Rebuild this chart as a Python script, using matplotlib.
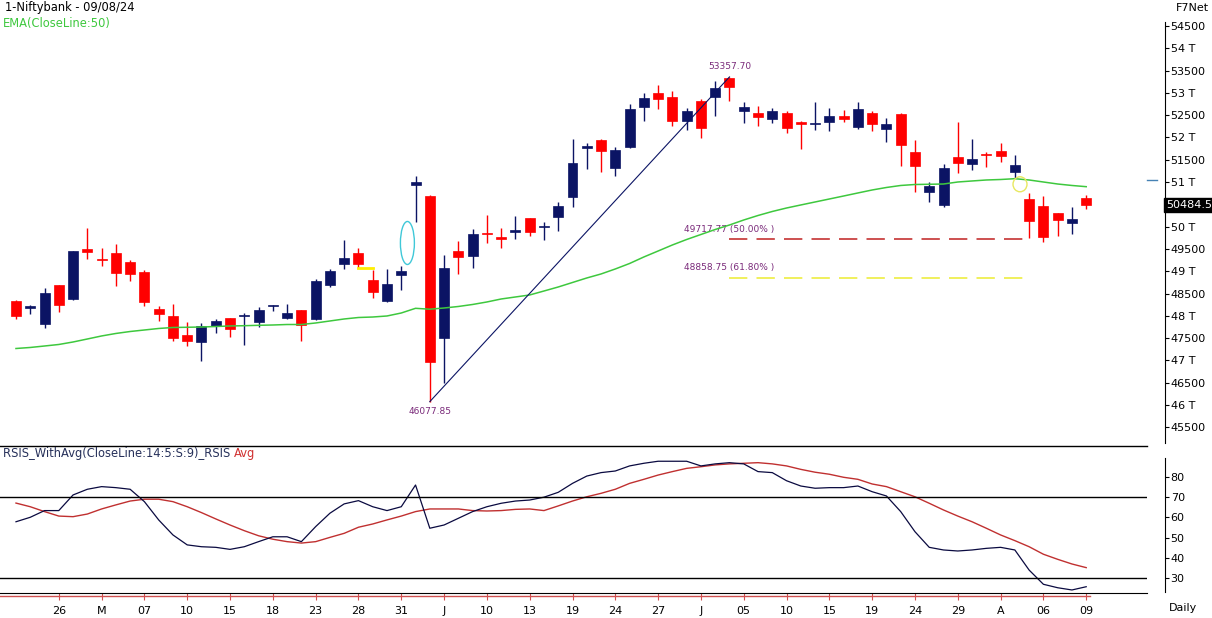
import matplotlib.pyplot as plt
from matplotlib.patches import Ellipse

W, H = 1212, 618

# Daily OHLC, 23 Apr 2024 .. 09 Aug 2024
opens = [48334, 48171, 47812, 48686, 48379, 49500, 49285, 49410, 49209, 48984,
         48155, 47991, 47572, 47422, 47780, 47946, 47990, 47870, 48230, 47960,
         48132, 47937, 48693, 49157, 49417, 48805, 48341, 48924, 50928, 50688,
         47511, 49455, 49343, 49851, 49762, 49888, 50188, 50000, 50224, 50659,
         51758, 51944, 51323, 51780, 52690, 53004, 52908, 52377, 52811, 52915,
         53330, 52601, 52556, 52421, 52556, 52354, 52300, 52354, 52482, 52242,
         52542, 52184, 52527, 51675, 50785, 50487, 51556, 51406, 51620, 51697,
         51220, 50614, 50464, 50307, 50090, 50643]
highs = [48357, 48245, 48619, 48700, 49462, 49964, 49516, 49612, 49247, 49029,
         48222, 48260, 47857, 47834, 47931, 47946, 48058, 48193, 48245, 48267,
         48140, 48821, 49052, 49702, 49516, 49029, 49045, 49119, 51133, 50700,
         49365, 49679, 49948, 50262, 49964, 50240, 50200, 50112, 50560, 51966,
         51870, 51960, 51780, 52751, 53004, 53177, 53042, 52655, 52856, 53267,
         53357.70, 52802, 52706, 52655, 52600, 52376, 52789, 52655, 52616, 52789,
         52594, 52430, 52542, 51944, 50995, 51406, 52341, 51960, 51681, 51870,
         51601, 50749, 50688, 50307, 50435, 50711]
lows = [47931, 48036, 47736, 48094, 48357, 49269, 49126, 48677, 48789, 48229,
        47879, 47444, 47332, 46996, 47623, 47534, 47354, 47745, 48117, 47931,
        47444, 47901, 48655, 49052, 49067, 48408, 48318, 48581, 50112, 46077.85,
        46489, 48933, 49081, 49641, 49529, 49717, 49798, 49702, 49910, 50448,
        51294, 51233, 51143, 51758, 52370, 52639, 52258, 52168, 51995, 52489,
        52825, 52318, 52264, 52318, 52094, 51742, 52168, 52152, 52341, 52184,
        52152, 51892, 51354, 50785, 50560, 50448, 51197, 51271, 51345, 51457,
        51085, 49740, 49664, 49798, 49836, 50397]
closes = [48005, 48222, 48507, 48238, 49455, 49426, 49260, 48955, 48933, 48318,
          48049, 47505, 47444, 47767, 47879, 47713, 48005, 48132, 48240, 48065,
          47796, 48783, 49007, 49298, 49170, 48543, 48715, 49007, 50995, 46960,
          49081, 49327, 49836, 49829, 49724, 49926, 49888, 50016, 50464, 51421,
          51809, 51704, 51720, 52632, 52879, 52856, 52377, 52594, 52206, 53116,
          53139, 52690, 52466, 52594, 52220, 52310, 52318, 52482, 52415, 52632,
          52296, 52296, 51825, 51354, 50906, 51309, 51435, 51511, 51600, 51592,
          51383, 50135, 49776, 50150, 50173, 50484.5]
ema50 = [47269, 47292, 47325, 47359, 47415, 47482, 47550, 47606, 47650, 47684,
         47718, 47740, 47745, 47751, 47762, 47774, 47780, 47789, 47796, 47807,
         47807, 47841, 47886, 47931, 47964, 47975, 47998, 48065, 48170, 48150,
         48177, 48211, 48256, 48312, 48379, 48424, 48469, 48558, 48648, 48749,
         48850, 48940, 49052, 49175, 49321, 49455, 49590, 49713, 49825, 49937,
         50038, 50150, 50251, 50341, 50419, 50487, 50554, 50621, 50688, 50756,
         50823, 50879, 50924, 50946, 50951, 50957, 51002, 51025, 51047, 51058,
         51076, 51047, 51002, 50957, 50924, 50897]
rsi = [57.8, 60.0, 63.3, 63.3, 71.0, 73.8, 75.1, 74.6, 73.8, 67.7,
       58.7, 51.3, 46.4, 45.5, 45.2, 44.2, 45.5, 48.0, 50.4, 50.4,
       48.0, 55.4, 62.0, 66.6, 68.2, 65.2, 63.3, 65.2, 75.9, 54.6,
       56.2, 59.5, 62.8, 65.2, 66.9, 68.0, 68.5, 69.9, 72.3, 76.7,
       80.3, 82.0, 82.8, 85.3, 86.6, 87.6, 87.6, 87.6, 85.3, 86.3,
       86.9, 86.3, 82.5, 82.0, 78.0, 75.4, 74.3, 74.6, 74.6, 75.4,
       72.6, 70.5, 62.8, 52.9, 45.2, 43.9, 43.4, 43.9, 44.7, 45.2,
       43.9, 34.0, 27.0, 25.3, 24.2, 25.8]
rsi_avg = [67.0, 65.2, 62.8, 60.6, 60.3, 61.6, 64.1, 66.1, 68.0, 68.9,
           68.9, 67.7, 65.2, 62.3, 59.2, 56.2, 53.4, 50.9, 49.2, 48.0,
           47.3, 48.0, 50.1, 52.1, 55.1, 56.7, 58.7, 60.6, 62.8, 64.1,
           64.1, 64.1, 63.3, 63.1, 63.3, 63.9, 64.1, 63.3, 65.6, 68.0,
           70.1, 71.8, 73.8, 76.7, 78.7, 80.8, 82.5, 84.1, 84.9, 85.8,
           86.3, 86.6, 86.9, 86.3, 85.3, 83.6, 82.2, 81.2, 79.7, 78.7,
           76.4, 75.1, 72.6, 70.1, 66.9, 63.6, 60.6, 57.8, 54.6, 51.3,
           48.5, 45.5, 41.8, 39.3, 37.0, 35.2]
date_ticks = [3, 6, 9, 12, 15, 18, 21, 24, 27, 30, 33, 36, 39, 42, 45, 48,
              51, 54, 57, 60, 63, 66, 69, 72, 75]
date_labels = ["26", "M", "07", "10", "15", "18", "23", "28", "31", "J", "10",
               "13", "19", "24", "27", "J", "05", "10", "15", "19", "24", "29",
               "A", "06", "09"]
price_ticks = list(range(45500, 54501, 500))
rsi_ticks = [30, 40, 50, 60, 70, 80]
swing_low, swing_high = 46077.85, 53357.70
fib_50, fib_618 = 49717.77, 48858.75
last_close = 50484.5

RED = "#ff0000"
NAVY = "#0b1464"
GREEN = "#3ec83e"
PURPLE = "#7a2a7a"
plt.rcParams["font.family"] = ["DejaVu Sans"]

fig = plt.figure(figsize=(W / 100, H / 100), dpi=100)
xlim = (-1.12, 79.26)

# ---- price panel ----
ax = fig.add_axes([0, 1 - 446 / H, 1147 / W, 426 / H])
ax.set_xlim(*xlim)
ax.set_ylim(45083, 54634)

n = len(closes)
for i in range(n):
    o, h, l, c = opens[i], highs[i], lows[i], closes[i]
    col = NAVY if c >= o else RED
    ax.vlines(i, l, h, color=col, lw=1, zorder=2)
    ax.bar(i, max(abs(c - o), 25), bottom=min(o, c), width=0.7, color=col,
           edgecolor=col, lw=0.5, zorder=3)

ax.plot(range(n), ema50, color=GREEN, lw=1.1, zorder=4)

# swing line and labels
ax.plot([29, 50], [swing_low, swing_high], color=NAVY, lw=0.8, zorder=5)
ax.text(29, swing_low - 120, f"{swing_low:.2f}", color=PURPLE, fontsize=6.5,
        ha="center", va="top")
ax.text(50, swing_high + 130, f"{swing_high:.2f}", color=PURPLE, fontsize=6.5,
        ha="center", va="bottom")

# fibonacci retracement levels
ax.plot([50, 71], [fib_50, fib_50], color="#c02020", lw=1.1,
        dashes=(12, 6), zorder=4)
ax.plot([50, 71], [fib_618, fib_618], color="#ecec30", lw=1.1,
        dashes=(12, 6), zorder=4)
ax.text(50, fib_50 + 120, f"{fib_50:.2f} (50.00% )", color=PURPLE,
        fontsize=6.5, ha="center", va="bottom")
ax.text(50, fib_618 + 120, f"{fib_618:.2f} (61.80% )", color=PURPLE,
        fontsize=6.5, ha="center", va="bottom")

# drawing marks
ax.add_patch(Ellipse((27.43, 49635), 0.98, 964, fill=False,
                     edgecolor="#40c8d8", lw=1, zorder=5))
ax.add_patch(Ellipse((70.36, 50951), 0.98, 336, fill=False,
                     edgecolor="#e8e860", lw=1, zorder=5))
ax.plot([24.0, 25.0], [49063, 49063], color="#ffee00", lw=2, zorder=5)
ax.plot([79.26, 79.96], [51043, 51043], color="#4682b4", lw=1,
        clip_on=False)

for s in ["top", "left"]:
    ax.spines[s].set_visible(False)
ax.spines["bottom"].set_linewidth(1)
ax.spines["right"].set_position(("outward", 13))
ax.spines["right"].set_bounds(45143, 54589)
ax.set_xticks([])
ax.yaxis.tick_right()
ax.set_yticks(price_ticks)
# the 50500 label sits under the last-close box, so it stays blank
ax.set_yticklabels(["" if p == 50500 else
                    (f"{p // 1000} T" if p % 1000 == 0 else str(p))
                    for p in price_ticks])
ax.tick_params(axis="y", labelsize=8, length=3, pad=1, colors="black")
ax.text(1 + 19 / 1147, last_close, f"{last_close}",
        transform=ax.get_yaxis_transform(), ha="left", va="center",
        fontsize=8, color="white",
        bbox=dict(boxstyle="square,pad=0.2", fc="black", ec="black"),
        clip_on=False, zorder=10)

# ---- RSI panel ----
rx = fig.add_axes([0, 1 - 593.3 / H, 1147 / W, 135.3 / H])
rx.set_xlim(*xlim)
rx.set_ylim(22.56, 89.2)
rx.plot(range(n), rsi_avg, color="#c03030", lw=1)
rx.plot(range(n), rsi, color="#0a0a40", lw=0.9)
rx.axhline(70, color="black", lw=1)
rx.axhline(30, color="black", lw=1)
rx.plot([xlim[0], 75.3], [21.23, 21.23], color="#d05050", lw=1,
        clip_on=False)
for s in ["top", "left"]:
    rx.spines[s].set_visible(False)
rx.spines["right"].set_position(("outward", 13))
rx.spines["right"].set_bounds(23.2, 89.2)
rx.yaxis.tick_right()
rx.set_yticks(rsi_ticks)
rx.tick_params(axis="y", labelsize=8, length=3, pad=1)
rx.set_xticks(date_ticks)
rx.set_xticklabels(date_labels)
rx.tick_params(axis="x", labelsize=8, length=5, color="#d05050", pad=4)

# ---- header / footer texts ----
fig.text(5 / W, 1 - 8 / H, "1-Niftybank - 09/08/24", fontsize=8.3,
         va="center", ha="left")
fig.text(3 / W, 1 - 24 / H, "EMA(CloseLine:50)", fontsize=8.3,
         va="center", ha="left", color=GREEN)
fig.text(1209 / W, 1 - 8 / H, "F7Net", fontsize=8, va="center", ha="right")
t = fig.text(3 / W, 1 - 454 / H, "RSIS_WithAvg(CloseLine:14:5:S:9)_RSIS ",
             fontsize=8.3, va="center", ha="left", color="#26305a")
fig.canvas.draw()
bb = t.get_window_extent()
fig.text(bb.x1 / W, 1 - 454 / H, "Avg", fontsize=8.3, va="center",
         ha="left", color="#d03030")
fig.text(1183 / W, 1 - 608 / H, "Daily", fontsize=8, va="center",
         ha="center")

fig.savefig("out.png", dpi=100)
